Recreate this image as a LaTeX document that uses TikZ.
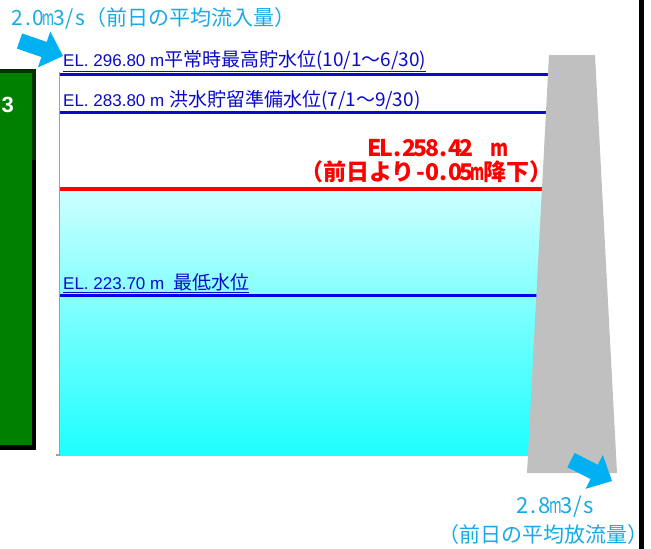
\documentclass[tikz,border=0pt]{standalone}
\usepackage{fontspec}
\setmainfont{Liberation Sans}
\newfontfamily\jp{Noto Sans CJK JP}
\usetikzlibrary{positioning}
\definecolor{B}{RGB}{10, 10, 200}
\definecolor{BB}{RGB}{0, 0, 235}
\definecolor{R}{RGB}{255, 0, 0}
\definecolor{C}{RGB}{0, 176, 240}
\definecolor{CT}{RGB}{25, 170, 230}
\definecolor{G}{RGB}{0, 128, 0}
\definecolor{GO}{RGB}{0, 51, 0}
\definecolor{W1}{RGB}{204, 255, 255}
\definecolor{W2}{RGB}{30, 255, 255}
\definecolor{Gris}{RGB}{192, 192, 192}
%caracteres de media anchura (monoespaciados), la m se estrecha
\ExplSyntaxOn
\NewDocumentCommand\hw{m}{\tl_map_inline:nn {#1}
  {\str_if_eq:nnTF {##1} {m}
    {\makebox[0.5em]{\scalebox{0.62}[1]{m}}}
    {\makebox[0.5em]{##1}}}}
\ExplSyntaxOff
\tikzset{
  nivel/.style={line width=3pt},
  etiqueta/.style={anchor=base west, inner sep=0pt, text=B, font=\fontsize{17}{20}\selectfont},
  rojo/.style={inner sep=0pt, text=R, font=\fontsize{23}{24}\jp\bfseries},
  caudal/.style={inner sep=0pt, text=CT, font=\fontsize{21}{24}\jp},
}

\begin{document}
\begin{tikzpicture}[x=1pt,y=-1pt]
   	\fill[white] (0,0) rectangle (651,549);
   	\useasboundingbox (0,0) rectangle (651,549);

	%Panel verde (cortado a la izquierda)
   	\fill[black] (0,69) rectangle (36,450);
   	\fill[GO] (0,69) rectangle (36,160);
   	\fill[G] (0,73) rectangle (31.5,445);
   	\node[anchor=base east, inner sep=0pt, text=white, font=\fontsize{22}{22}\selectfont\bfseries] (pct) at (14,112) {3};

	%Agua del embalse
   	\shade[top color=W1, bottom color=W2] (60,190) rectangle (545,455);
   	\draw[R, line width=4pt] (59,188.5) -- (545,188.5); %nivel actual

	%Niveles de referencia
   	\draw[nivel, B] (59,74.5) -- (550,74.5);
   	\draw[nivel, B] (59,112.5) -- (548,112.5);
   	\draw[nivel, BB] (59,295) -- (540,295);

	%Pared izquierda
   	\draw[gray!75, line width=1.5pt] (59.5,72) -- (59.5,455) -- (56,455);

	%Presa
   	\fill[Gris] (549,55) -- (595,55) -- (617,473) -- (527,473) -- cycle;

	%Etiquetas de los niveles
   	\node[etiqueta] (n1) at (63,66) {\underline{EL. 296.80 m{\jp\fontsize{19}{20}\selectfont 平常時最高貯水位(10/1～6/30)}}};
   	\node[etiqueta] (n2) at (63,106) {\underline{EL. 283.80 m {\jp\fontsize{19}{20}\selectfont 洪水貯留準備水位(7/1～9/30)}}};
   	\node[etiqueta] (n3) at (63,289) {\underline{EL. 223.70 m\hspace{9pt}{\jp\fontsize{19}{20}\selectfont 最低水位}}};

	%Nivel actual
   	\node[rojo, anchor=base] (hoy) at (439,156) {\hw{EL.258.42}\hspace{0.8em}\scalebox{0.8}[1]{m}};
   	\node[rojo] (dif) at (426.5,172) {（前日より\hw{-0.05m}降下）};

	%Flecha de entrada
   	\begin{scope}[shift={(63,56)}, rotate=-19]
   		\fill[C] (0,0) -- (-20,-19) -- (-20,-8) -- (-46,-8) -- (-46,8) -- (-20,8) -- (-20,19) -- cycle;
   	\end{scope}
   	\node[caudal, anchor=base west] (qin) at (12,25) {\hw{2.0m3/s}（前日の平均流入量）};

	%Flecha de salida
   	\begin{scope}[shift={(612,481)}, rotate=-27]
   		\fill[C] (0,0) -- (-20,-19) -- (-20,-8) -- (-46,-8) -- (-46,8) -- (-20,8) -- (-20,19) -- cycle;
   	\end{scope}
   	\node[caudal, anchor=base, font=\fontsize{22}{24}\jp] (qout) at (556,513) {\hw{2.8m3/s}};
   	\node[caudal] (qoutt) at (543,535) {（前日の平均放流量）};

	%Barra negra a la derecha
   	\fill[black] (639,0) rectangle (644,549);
\end{tikzpicture}
\end{document}
